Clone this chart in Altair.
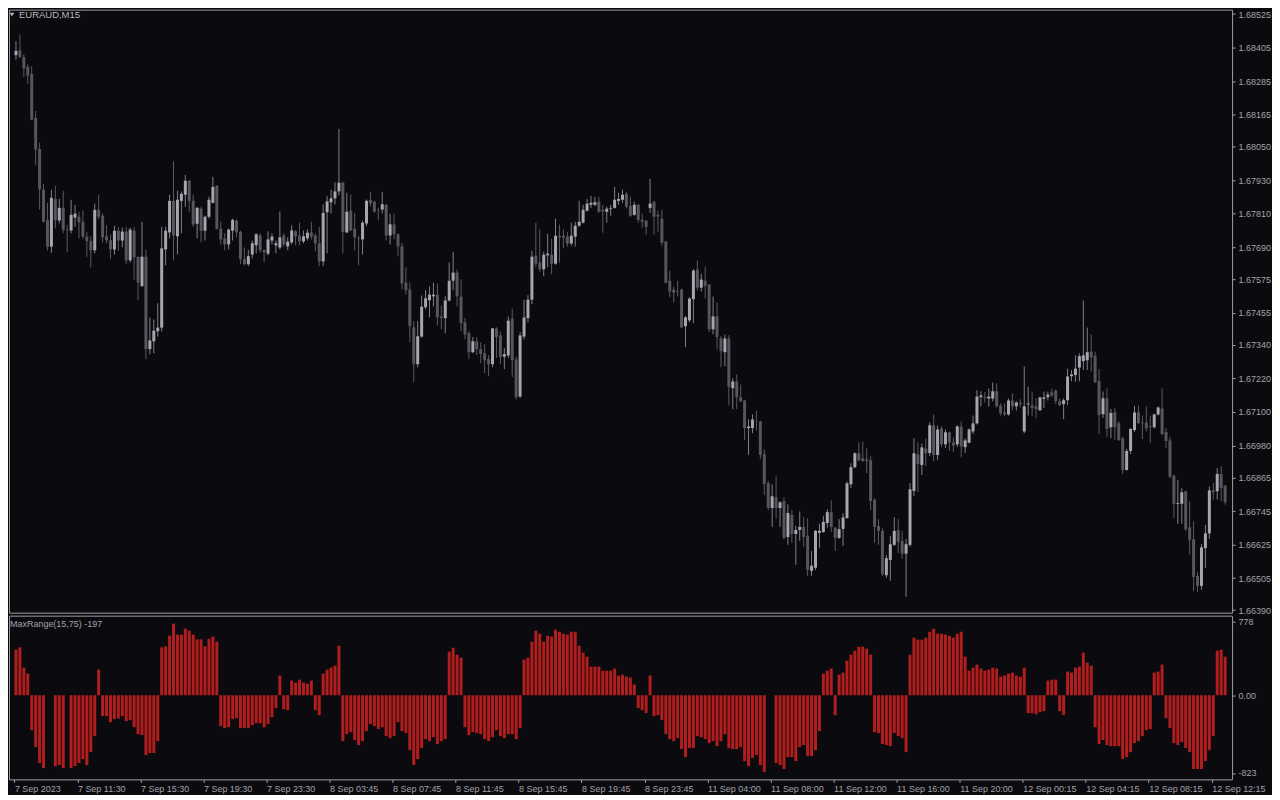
import altair as alt
import pandas as pd

# ---------------- data (EURAUD M15) ----------------
open_p = [
1.68378, 1.68395, 1.68371, 1.68336, 1.68310, 1.68153, 1.68042, 1.67896, 1.67788, 1.67692,
1.67863, 1.67786, 1.67831, 1.67753, 1.67750, 1.67796, 1.67799, 1.67781, 1.67728, 1.67712,
1.67679, 1.67824, 1.67803, 1.67729, 1.67715, 1.67682, 1.67749, 1.67714, 1.67746, 1.67643,
1.67749, 1.67656, 1.67550, 1.67656, 1.67325, 1.67353, 1.67389, 1.67402, 1.67682, 1.67743,
1.67856, 1.67729, 1.67856, 1.67878, 1.67928, 1.67856, 1.67774, 1.67828, 1.67749, 1.67799,
1.67849, 1.67910, 1.67756, 1.67722, 1.67700, 1.67749, 1.67785, 1.67745, 1.67648, 1.67629,
1.67664, 1.67697, 1.67732, 1.67680, 1.67667, 1.67714, 1.67697, 1.67689, 1.67732, 1.67693,
1.67707, 1.67747, 1.67732, 1.67711, 1.67722, 1.67743, 1.67732, 1.67704, 1.67639, 1.67815,
1.67851, 1.67865, 1.67890, 1.67921, 1.67743, 1.67821, 1.67756, 1.67722, 1.67718, 1.67775,
1.67860, 1.67853, 1.67823, 1.67825, 1.67842, 1.67732, 1.67772, 1.67736, 1.67693, 1.67563,
1.67538, 1.67403, 1.67271, 1.67370, 1.67475, 1.67500, 1.67514, 1.67520, 1.67442, 1.67436,
1.67499, 1.67570, 1.67599, 1.67513, 1.67421, 1.67382, 1.67314, 1.67353, 1.67325, 1.67310,
1.67289, 1.67271, 1.67399, 1.67374, 1.67298, 1.67302, 1.67434, 1.67288, 1.67155, 1.67370,
1.67436, 1.67502, 1.67660, 1.67635, 1.67611, 1.67661, 1.67663, 1.67631, 1.67731, 1.67731,
1.67728, 1.67703, 1.67728, 1.67767, 1.67778, 1.67821, 1.67842, 1.67842, 1.67853, 1.67824,
1.67817, 1.67828, 1.67831, 1.67856, 1.67860, 1.67881, 1.67838, 1.67806, 1.67842, 1.67788,
1.67785, 1.67831, 1.67853, 1.67806, 1.67792, 1.67710, 1.67570, 1.67538, 1.67532, 1.67538,
1.67407, 1.67428, 1.67504, 1.67610, 1.67545, 1.67570, 1.67556, 1.67396, 1.67442, 1.67364,
1.67314, 1.67363, 1.67185, 1.67209, 1.67152, 1.67141, 1.67042, 1.67042, 1.67066, 1.67066,
1.66948, 1.66845, 1.66756, 1.66794, 1.66756, 1.66780, 1.66652, 1.66731, 1.66663, 1.66677,
1.66688, 1.66656, 1.66531, 1.66542, 1.66667, 1.66670, 1.66702, 1.66741, 1.66685, 1.66649,
1.66681, 1.66720, 1.66841, 1.66902, 1.66952, 1.66934, 1.66930, 1.66927, 1.66785, 1.66691,
1.66674, 1.66515, 1.66570, 1.66624, 1.66677, 1.66638, 1.66592, 1.66624, 1.66817, 1.66948,
1.66910, 1.66969, 1.66953, 1.67052, 1.66946, 1.67041, 1.66984, 1.67027, 1.66991, 1.66984,
1.67048, 1.66974, 1.66990, 1.67030, 1.67059, 1.67153, 1.67153, 1.67148, 1.67148, 1.67174,
1.67123, 1.67098, 1.67091, 1.67141, 1.67120, 1.67133, 1.67030, 1.67127, 1.67123, 1.67120,
1.67106, 1.67147, 1.67153, 1.67170, 1.67177, 1.67139, 1.67128, 1.67142, 1.67228, 1.67232,
1.67259, 1.67282, 1.67285, 1.67316, 1.67302, 1.67210, 1.67092, 1.67149, 1.67045, 1.67099,
1.67060, 1.67006, 1.66892, 1.66960, 1.67035, 1.67098, 1.67062, 1.67062, 1.67049, 1.67045,
1.67091, 1.67112, 1.67028, 1.66998, 1.66872, 1.66771, 1.66771, 1.66816, 1.66687, 1.66644,
1.66513, 1.66477, 1.66612, 1.66665, 1.66819, 1.66816, 1.66878, 1.66835,
]

high_p = [
1.68428, 1.68452, 1.68381, 1.68345, 1.68338, 1.68178, 1.68064, 1.67917, 1.67849, 1.67896,
1.67910, 1.67863, 1.67892, 1.67769, 1.67860, 1.67842, 1.67817, 1.67821, 1.67744, 1.67729,
1.67846, 1.67878, 1.67811, 1.67769, 1.67735, 1.67767, 1.67763, 1.67760, 1.67763, 1.67760,
1.67763, 1.67656, 1.67781, 1.67681, 1.67438, 1.67431, 1.67489, 1.67763, 1.67763, 1.67878,
1.67997, 1.67892, 1.67889, 1.67949, 1.67930, 1.67878, 1.67835, 1.67835, 1.67803, 1.67871,
1.67942, 1.67912, 1.67782, 1.67740, 1.67757, 1.67792, 1.67790, 1.67749, 1.67689, 1.67681,
1.67714, 1.67740, 1.67740, 1.67682, 1.67747, 1.67740, 1.67714, 1.67818, 1.67740, 1.67725,
1.67768, 1.67751, 1.67778, 1.67750, 1.67754, 1.67781, 1.67740, 1.67763, 1.67843, 1.67874,
1.67896, 1.67922, 1.68114, 1.67925, 1.67885, 1.67879, 1.67813, 1.67731, 1.67785, 1.67861,
1.67888, 1.67856, 1.67832, 1.67888, 1.67844, 1.67810, 1.67810, 1.67740, 1.67706, 1.67618,
1.67564, 1.67425, 1.67425, 1.67517, 1.67537, 1.67549, 1.67563, 1.67560, 1.67481, 1.67514,
1.67635, 1.67674, 1.67610, 1.67575, 1.67436, 1.67389, 1.67368, 1.67368, 1.67349, 1.67343,
1.67303, 1.67400, 1.67403, 1.67388, 1.67328, 1.67442, 1.67470, 1.67298, 1.67385, 1.67502,
1.67518, 1.67678, 1.67778, 1.67753, 1.67674, 1.67738, 1.67720, 1.67792, 1.67771, 1.67753,
1.67745, 1.67778, 1.67781, 1.67856, 1.67842, 1.67863, 1.67874, 1.67870, 1.67870, 1.67842,
1.67835, 1.67842, 1.67906, 1.67885, 1.67896, 1.67889, 1.67871, 1.67853, 1.67845, 1.67810,
1.67787, 1.67935, 1.67855, 1.67821, 1.67824, 1.67712, 1.67606, 1.67549, 1.67570, 1.67542,
1.67443, 1.67511, 1.67612, 1.67642, 1.67595, 1.67620, 1.67558, 1.67513, 1.67492, 1.67371,
1.67377, 1.67375, 1.67221, 1.67234, 1.67198, 1.67143, 1.67074, 1.67091, 1.67105, 1.67068,
1.66966, 1.66853, 1.66841, 1.66869, 1.66780, 1.66794, 1.66769, 1.66748, 1.66692, 1.66744,
1.66723, 1.66720, 1.66602, 1.66677, 1.66699, 1.66728, 1.66751, 1.66783, 1.66688, 1.66716,
1.66737, 1.66851, 1.66916, 1.66955, 1.66991, 1.66994, 1.66969, 1.66941, 1.66791, 1.66716,
1.66685, 1.66587, 1.66655, 1.66723, 1.66716, 1.66674, 1.66645, 1.66845, 1.67005, 1.66991,
1.66987, 1.67005, 1.67062, 1.67091, 1.67052, 1.67048, 1.67037, 1.67030, 1.67009, 1.67052,
1.67066, 1.67005, 1.67041, 1.67087, 1.67178, 1.67174, 1.67171, 1.67184, 1.67205, 1.67202,
1.67130, 1.67130, 1.67148, 1.67166, 1.67138, 1.67145, 1.67263, 1.67191, 1.67173, 1.67149,
1.67154, 1.67173, 1.67173, 1.67184, 1.67180, 1.67148, 1.67148, 1.67255, 1.67250, 1.67303,
1.67310, 1.67499, 1.67402, 1.67377, 1.67316, 1.67254, 1.67173, 1.67184, 1.67111, 1.67114,
1.67066, 1.67011, 1.66968, 1.67042, 1.67122, 1.67122, 1.67087, 1.67120, 1.67087, 1.67094,
1.67120, 1.67184, 1.67042, 1.67011, 1.66875, 1.66857, 1.66827, 1.66818, 1.66780, 1.66708,
1.66526, 1.66627, 1.66696, 1.66833, 1.66845, 1.66899, 1.66905, 1.66839,
]

low_p = [
1.68362, 1.68368, 1.68300, 1.68276, 1.68145, 1.67984, 1.67825, 1.67778, 1.67678, 1.67670,
1.67757, 1.67775, 1.67740, 1.67672, 1.67740, 1.67763, 1.67722, 1.67720, 1.67656, 1.67618,
1.67668, 1.67790, 1.67706, 1.67704, 1.67647, 1.67663, 1.67677, 1.67690, 1.67630, 1.67635,
1.67573, 1.67500, 1.67550, 1.67289, 1.67307, 1.67310, 1.67370, 1.67388, 1.67625, 1.67722,
1.67643, 1.67664, 1.67740, 1.67835, 1.67817, 1.67763, 1.67722, 1.67707, 1.67714, 1.67793,
1.67847, 1.67753, 1.67700, 1.67679, 1.67682, 1.67714, 1.67725, 1.67629, 1.67625, 1.67622,
1.67650, 1.67668, 1.67670, 1.67636, 1.67661, 1.67700, 1.67668, 1.67682, 1.67692, 1.67679,
1.67700, 1.67697, 1.67697, 1.67704, 1.67714, 1.67718, 1.67675, 1.67622, 1.67622, 1.67668,
1.67811, 1.67843, 1.67875, 1.67668, 1.67740, 1.67747, 1.67679, 1.67625, 1.67664, 1.67765,
1.67837, 1.67813, 1.67786, 1.67811, 1.67714, 1.67700, 1.67718, 1.67657, 1.67539, 1.67521,
1.67350, 1.67207, 1.67260, 1.67366, 1.67468, 1.67439, 1.67478, 1.67410, 1.67396, 1.67382,
1.67496, 1.67536, 1.67478, 1.67389, 1.67360, 1.67289, 1.67310, 1.67303, 1.67275, 1.67239,
1.67228, 1.67260, 1.67293, 1.67271, 1.67253, 1.67293, 1.67225, 1.67144, 1.67150, 1.67360,
1.67421, 1.67486, 1.67618, 1.67602, 1.67586, 1.67618, 1.67593, 1.67627, 1.67635, 1.67687,
1.67692, 1.67695, 1.67692, 1.67763, 1.67775, 1.67817, 1.67831, 1.67837, 1.67813, 1.67742,
1.67778, 1.67803, 1.67828, 1.67842, 1.67849, 1.67829, 1.67799, 1.67803, 1.67778, 1.67760,
1.67735, 1.67813, 1.67735, 1.67745, 1.67695, 1.67560, 1.67511, 1.67493, 1.67514, 1.67400,
1.67332, 1.67421, 1.67418, 1.67535, 1.67531, 1.67507, 1.67386, 1.67378, 1.67325, 1.67260,
1.67264, 1.67124, 1.67110, 1.67110, 1.67135, 1.66999, 1.66946, 1.67024, 1.67034, 1.66931,
1.66803, 1.66749, 1.66688, 1.66717, 1.66688, 1.66645, 1.66624, 1.66631, 1.66552, 1.66638,
1.66617, 1.66513, 1.66513, 1.66534, 1.66613, 1.66667, 1.66685, 1.66670, 1.66602, 1.66645,
1.66620, 1.66717, 1.66828, 1.66898, 1.66923, 1.66921, 1.66881, 1.66749, 1.66631, 1.66624,
1.66512, 1.66505, 1.66495, 1.66620, 1.66595, 1.66574, 1.66438, 1.66617, 1.66799, 1.66813,
1.66874, 1.66906, 1.66942, 1.66924, 1.66928, 1.66974, 1.66971, 1.66960, 1.66956, 1.66974,
1.66938, 1.66953, 1.66987, 1.67021, 1.67055, 1.67120, 1.67134, 1.67120, 1.67138, 1.67116,
1.67087, 1.67084, 1.67087, 1.67105, 1.67105, 1.67116, 1.67024, 1.67087, 1.67085, 1.67078,
1.67103, 1.67114, 1.67141, 1.67153, 1.67128, 1.67121, 1.67074, 1.67124, 1.67210, 1.67208,
1.67210, 1.67250, 1.67250, 1.67245, 1.67203, 1.67021, 1.67078, 1.67010, 1.67006, 1.66999,
1.66996, 1.66878, 1.66890, 1.66949, 1.67028, 1.67056, 1.67003, 1.67030, 1.66988, 1.67041,
1.67087, 1.67017, 1.66971, 1.66863, 1.66720, 1.66699, 1.66700, 1.66673, 1.66589, 1.66458,
1.66456, 1.66463, 1.66541, 1.66645, 1.66786, 1.66786, 1.66780, 1.66768,
]

close_p = [
1.68393, 1.68371, 1.68330, 1.68305, 1.68147, 1.68040, 1.67897, 1.67781, 1.67692, 1.67867,
1.67786, 1.67831, 1.67753, 1.67750, 1.67806, 1.67810, 1.67779, 1.67728, 1.67712, 1.67679,
1.67824, 1.67799, 1.67725, 1.67715, 1.67682, 1.67749, 1.67714, 1.67746, 1.67643, 1.67753,
1.67654, 1.67564, 1.67656, 1.67325, 1.67356, 1.67391, 1.67402, 1.67686, 1.67749, 1.67856,
1.67732, 1.67860, 1.67881, 1.67928, 1.67856, 1.67771, 1.67831, 1.67749, 1.67799, 1.67860,
1.67906, 1.67756, 1.67718, 1.67700, 1.67753, 1.67788, 1.67743, 1.67647, 1.67629, 1.67658,
1.67704, 1.67736, 1.67679, 1.67672, 1.67718, 1.67728, 1.67704, 1.67725, 1.67700, 1.67710,
1.67750, 1.67729, 1.67711, 1.67729, 1.67742, 1.67728, 1.67704, 1.67639, 1.67813, 1.67854,
1.67865, 1.67890, 1.67921, 1.67745, 1.67817, 1.67751, 1.67725, 1.67720, 1.67778, 1.67856,
1.67847, 1.67817, 1.67822, 1.67844, 1.67732, 1.67772, 1.67736, 1.67693, 1.67561, 1.67536,
1.67407, 1.67271, 1.67371, 1.67477, 1.67507, 1.67520, 1.67520, 1.67439, 1.67436, 1.67499,
1.67570, 1.67599, 1.67514, 1.67418, 1.67378, 1.67314, 1.67353, 1.67325, 1.67307, 1.67285,
1.67271, 1.67399, 1.67368, 1.67296, 1.67307, 1.67427, 1.67285, 1.67153, 1.67374, 1.67438,
1.67502, 1.67656, 1.67631, 1.67611, 1.67663, 1.67667, 1.67631, 1.67731, 1.67725, 1.67724,
1.67703, 1.67731, 1.67767, 1.67781, 1.67824, 1.67846, 1.67849, 1.67851, 1.67817, 1.67818,
1.67828, 1.67831, 1.67860, 1.67863, 1.67878, 1.67835, 1.67803, 1.67842, 1.67788, 1.67781,
1.67763, 1.67846, 1.67799, 1.67800, 1.67706, 1.67563, 1.67531, 1.67527, 1.67530, 1.67403,
1.67439, 1.67506, 1.67606, 1.67545, 1.67574, 1.67552, 1.67396, 1.67442, 1.67368, 1.67318,
1.67363, 1.67189, 1.67209, 1.67153, 1.67138, 1.67042, 1.67048, 1.67073, 1.67065, 1.66946,
1.66842, 1.66756, 1.66798, 1.66756, 1.66776, 1.66649, 1.66738, 1.66663, 1.66677, 1.66688,
1.66652, 1.66534, 1.66549, 1.66674, 1.66674, 1.66706, 1.66741, 1.66688, 1.66649, 1.66680,
1.66722, 1.66844, 1.66902, 1.66952, 1.66927, 1.66924, 1.66924, 1.66781, 1.66688, 1.66674,
1.66519, 1.66576, 1.66626, 1.66674, 1.66635, 1.66592, 1.66626, 1.66823, 1.66952, 1.66913,
1.66973, 1.66953, 1.67052, 1.66946, 1.67037, 1.66984, 1.67027, 1.66991, 1.66980, 1.67048,
1.66977, 1.66998, 1.67037, 1.67059, 1.67155, 1.67159, 1.67149, 1.67155, 1.67174, 1.67120,
1.67095, 1.67091, 1.67141, 1.67120, 1.67134, 1.67128, 1.67120, 1.67130, 1.67114, 1.67110,
1.67152, 1.67152, 1.67162, 1.67159, 1.67139, 1.67124, 1.67142, 1.67227, 1.67234, 1.67255,
1.67300, 1.67303, 1.67314, 1.67295, 1.67207, 1.67089, 1.67149, 1.67039, 1.67096, 1.67045,
1.66999, 1.66892, 1.66960, 1.67039, 1.67098, 1.67060, 1.67059, 1.67041, 1.67046, 1.67091,
1.67116, 1.67021, 1.66996, 1.66868, 1.66771, 1.66774, 1.66812, 1.66680, 1.66642, 1.66509,
1.66477, 1.66615, 1.66665, 1.66819, 1.66813, 1.66878, 1.66827, 1.66777,
]

max_range = [
482, 507, 292, 229, -370, -549, -718, -771, 0, 0,
-750, -739, -771, 0, -771, -750, -718, -676, -739, -602,
-433, 271, -222, -222, -285, -253, -246, -222, -275, -264,
-338, -412, -422, -634, -612, -612, -486, 507, 517, 630,
757, 641, 641, 704, 683, 641, 591, 591, 517, 598,
620, 567, -327, -348, -338, -253, -243, -348, -348, -348,
-317, -296, -296, -338, -306, -232, -137, 208, -148, -158,
155, 134, 165, 134, 123, 155, -158, -211, 229, 271,
292, 313, 524, -486, -412, -391, -475, -528, -486, -380,
-306, -327, -359, -338, -433, -454, -433, -285, -380, -401,
-581, -739, -676, -560, -465, -486, -444, -517, -486, -465,
461, 503, 429, 398, -338, -422, -391, -401, -412, -465,
-486, -444, -370, -433, -454, -412, -412, -465, -348, 377,
398, 567, 683, 651, 567, 630, 620, 693, 672, 651,
641, 672, 672, 524, 451, 408, 303, 303, 303, 260,
260, 260, 282, 208, 218, 197, 187, 113, -137, -158,
-190, 208, -222, -211, -264, -412, -465, -486, -454, -570,
-655, -560, -560, -433, -444, -465, -507, -486, -539, -486,
-412, -560, -570, -570, -549, -697, -750, -665, -634, -739,
-813, 0, 0, -718, -739, -781, -655, -655, -697, -549,
-528, -644, -644, -581, -380, 229, 260, 282, -211, 218,
239, 366, 429, 472, 514, 514, 493, 429, -391, -401,
-517, -528, -539, -401, -433, -454, -602, 429, 609, 588,
588, 609, 672, 704, 651, 651, 641, 630, 609, 651,
672, 408, 260, 292, 324, 282, 260, 271, 292, 282,
197, 208, 229, 239, 208, 197, 292, -190, -190, -201,
-180, -169, 155, 165, 165, -169, -211, 250, 239, 292,
303, 451, 345, 313, -338, -517, -475, -528, -539, -539,
-539, -676, -655, -602, -507, -486, -433, -370, -359, 239,
250, 324, -243, -348, -507, -528, -496, -560, -602, -781,
-781, -781, -697, -581, -433, 472, 482, 408,
]

time_labels = ["7 Sep 2023", "7 Sep 11:30", "7 Sep 15:30", "7 Sep 19:30", "7 Sep 23:30",
               "8 Sep 03:45", "8 Sep 07:45", "8 Sep 11:45", "8 Sep 15:45", "8 Sep 19:45",
               "8 Sep 23:45", "11 Sep 04:00", "11 Sep 08:00", "11 Sep 12:00", "11 Sep 16:00",
               "11 Sep 20:00", "12 Sep 00:15", "12 Sep 04:15", "12 Sep 08:15", "12 Sep 12:15"]

price_ticks = [1.68525, 1.68405, 1.68285, 1.68165, 1.68050, 1.67930, 1.67810, 1.67690,
               1.67575, 1.67455, 1.67340, 1.67220, 1.67100, 1.66980, 1.66865, 1.66745,
               1.66625, 1.66505, 1.66390]
indicator_ticks = [778, 0, -823]

# ---------------- styling ----------------
BG = "#0b0b0f"
BULL_BODY, BEAR_BODY = "#a6a6b2", "#56565c"
BULL_WICK, BEAR_WICK = "#80808a", "#5a5a60"
HIST = "#b21e1e"
FRAME = "#9c9ca2"
LABEL = "#a2a2aa"
FONT = "Liberation Sans"
W, H_TOP, H_BOT = 1225, 604, 164

n = len(close_p)
up = [c >= o for o, c in zip(open_p, close_p)]
df = pd.DataFrame({
    "i": list(range(n)),
    "open": open_p, "high": high_p, "low": low_p, "close": close_p,
    "mr": max_range,
    "body_col": [BULL_BODY if u else BEAR_BODY for u in up],
    "wick_col": [BULL_WICK if u else BEAR_WICK for u in up],
})

x_dom = [-0.5, n - 0.5]
x_scale = alt.Scale(domain=x_dom, nice=False, zero=False)
x_tick_vals = [k - 0.4 for k in range(0, n, 16)]
label_arr = "[" + ",".join("'" + s + "'" for s in time_labels) + "]"
x_label_expr = label_arr + "[round((datum.value + 0.4) / 16)]"

price_scale = alt.Scale(domain=[1.66381, 1.68541], nice=False, zero=False)
price_axis = alt.Axis(orient="right", values=price_ticks, format=".5f", title=None,
                      grid=False, domain=False, tickSize=3, labelPadding=3)

base = alt.Chart(df)
wicks = base.mark_rule(strokeWidth=1).encode(
    x=alt.X("i:Q", scale=x_scale, axis=None),
    y=alt.Y("low:Q", scale=price_scale, axis=price_axis),
    y2="high:Q",
    color=alt.Color("wick_col:N", scale=None),
)
bodies = base.mark_bar(size=3).encode(
    x=alt.X("i:Q", scale=x_scale, axis=None),
    y=alt.Y("open:Q", scale=price_scale, axis=price_axis),
    y2="close:Q",
    color=alt.Color("body_col:N", scale=None),
)

title_df = pd.DataFrame({"t": ["EURAUD,M15"]})
tri = alt.Chart(title_df).mark_point(shape="triangle-down", filled=True, size=20,
                                     color="#b8b8c0", opacity=1).encode(
    x=alt.value(3), y=alt.value(5))
title_txt = alt.Chart(title_df).mark_text(align="left", baseline="middle", font=FONT,
                                          fontSize=9.5, color="#b8b8c0").encode(
    x=alt.value(10), y=alt.value(5.5), text="t:N")

top = alt.layer(wicks, bodies, tri, title_txt).properties(width=W, height=H_TOP)

hist = base.mark_bar(size=3, color=HIST).encode(
    x=alt.X("i:Q", scale=x_scale,
            axis=alt.Axis(values=x_tick_vals, labelExpr=x_label_expr, title=None, grid=False,
                          domain=False, tickSize=3, labelPadding=2, labelAlign="left",
                          labelFlush=False, labelOverlap=False)),
    y=alt.Y("mr:Q", scale=alt.Scale(domain=[-891, 842], nice=False, zero=False),
            axis=alt.Axis(orient="right", values=indicator_ticks, title=None, grid=False,
                          domain=False, tickSize=3, labelPadding=3,
                          labelExpr="datum.value == 0 ? '0.00' : '' + datum.value")),
    y2=alt.datum(0),
)
ind_df = pd.DataFrame({"t": ["MaxRange(15,75) -197"]})
ind_txt = alt.Chart(ind_df).mark_text(align="left", baseline="middle", font=FONT,
                                      fontSize=9, color=LABEL).encode(
    x=alt.value(1), y=alt.value(8.5), text="t:N")

bottom = alt.layer(hist, ind_txt).properties(width=W, height=H_BOT)

chart = alt.vconcat(top, bottom, spacing=3, bounds="flush").properties(
    padding=0,
    background=BG,
).configure_view(
    stroke=FRAME, strokeWidth=1
).configure_axis(
    labelFont=FONT, labelFontSize=9, labelColor=LABEL, tickColor=LABEL, tickWidth=1
)

chart.save("out.html", embed_options={"renderer": "svg", "actions": False})
